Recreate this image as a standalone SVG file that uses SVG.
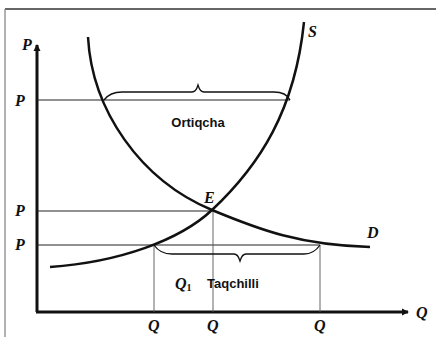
<svg xmlns="http://www.w3.org/2000/svg" width="436" height="337" viewBox="0 0 436 337">
<defs>
<style>
.lab{font-family:"Liberation Serif",serif;font-weight:bold;font-style:italic;font-size:16px;fill:#111}
.txt{font-family:"Liberation Sans",sans-serif;font-weight:bold;font-size:13px;fill:#111}
.curve{fill:none;stroke:#111;stroke-width:2.5}
.guide{stroke:#222;stroke-width:1;fill:none}
.vguide{stroke:#555;stroke-width:0.9;fill:none}
.brace{fill:none;stroke:#111;stroke-width:1.3}
</style>
<marker id="ah" markerWidth="8" markerHeight="8" refX="6" refY="4" orient="auto" markerUnits="userSpaceOnUse">
<path d="M0,0.5 L7,4 L0,7.5 Z" fill="#111"/>
</marker>
</defs>
<rect width="436" height="337" fill="#fff"/>
<g id="frame">
<line x1="5" y1="9" x2="436" y2="9" stroke="#333" stroke-width="1.3"/>
<line x1="5" y1="9" x2="5" y2="337" stroke="#888" stroke-width="1.3"/>
</g>
<g id="axes">
<line x1="37" y1="312" x2="37" y2="45" stroke="#111" stroke-width="3" marker-end="url(#ah)"/>
<line x1="36" y1="312" x2="408" y2="312" stroke="#111" stroke-width="3" marker-end="url(#ah)"/>
<text class="lab" x="22" y="50">P</text>
<text class="lab" x="416" y="318">Q</text>
</g>
<g id="connectors">
<line class="guide" x1="37" y1="100" x2="290" y2="100"/>
<line class="guide" x1="37" y1="211" x2="212" y2="211"/>
<line class="guide" x1="37" y1="245" x2="320" y2="245"/>
<line class="vguide" x1="154" y1="245" x2="154" y2="312"/>
<line class="vguide" x1="213" y1="211" x2="213" y2="312"/>
<line class="vguide" x1="320" y1="245" x2="320" y2="312"/>
</g>
<g id="demand">
<path class="curve" d="M88,37 C92,110 140,180 212,210 C260,230 300,245 370,247"/>
<text class="lab" x="367" y="238">D</text>
</g>
<g id="supply">
<path class="curve" d="M50,267 C120,262 180,240 212,210 C260,165 295,110 304,22"/>
<text class="lab" x="308" y="37">S</text>
</g>
<g id="equilibrium">
<text class="lab" x="204" y="203">E</text>
</g>
<g id="price-labels">
<text class="lab" x="15" y="106">P</text>
<text class="lab" x="15" y="216">P</text>
<text class="lab" x="15" y="250">P</text>
</g>
<g id="quantity-labels">
<text class="lab" x="148" y="331">Q</text>
<text class="lab" x="207" y="331">Q</text>
<text class="lab" x="314" y="331">Q</text>
</g>
<g id="surplus">
<path class="brace" d="M104,100 Q110,92 122,92 L192,92 Q196,92 198,85 Q200,92 204,92 L274,92 Q286,92 290,100"/>
<text class="txt" x="198" y="127" text-anchor="middle">Ortiqcha</text>
</g>
<g id="shortage">
<path class="brace" d="M154,245 Q160,254 172,254 L234,254 Q238,254 240,261 Q242,254 246,254 L304,254 Q314,254 320,245"/>
<text class="lab" x="175" y="289">Q<tspan font-size="10" font-style="normal" dy="2">1</tspan></text>
<text class="txt" x="207" y="288">Taqchilli</text>
</g>
</svg>
